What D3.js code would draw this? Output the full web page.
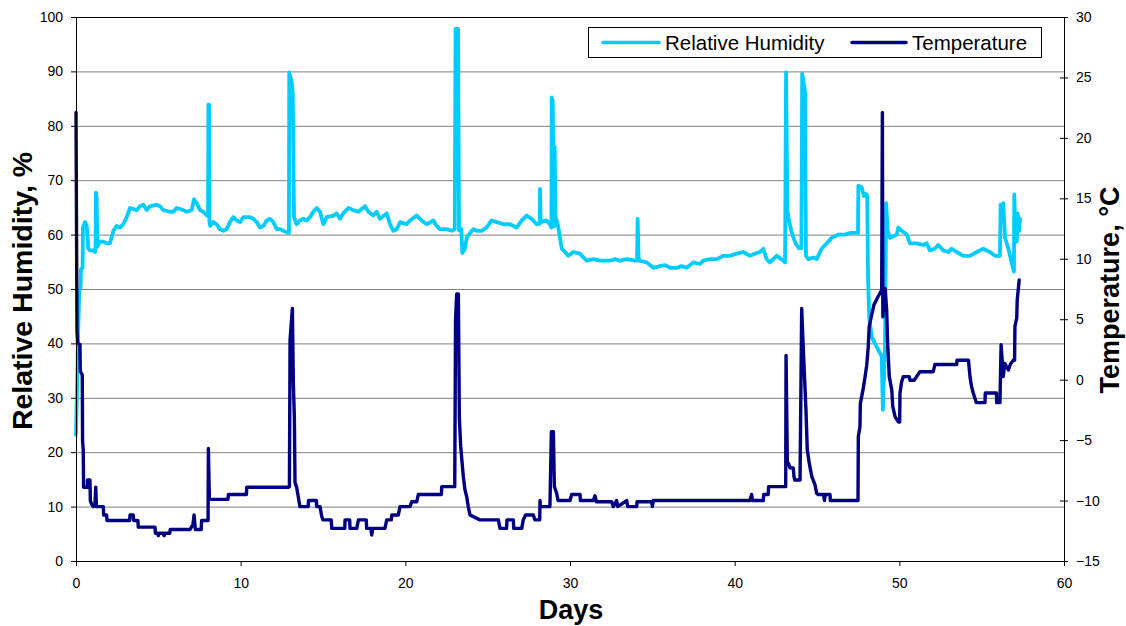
<!DOCTYPE html>
<html><head><meta charset="utf-8">
<script src="https://cdn.jsdelivr.net/npm/d3@7"></script>
<style>
body{margin:0;background:#fff;}
svg{display:block;font-family:"Liberation Sans",Arial,sans-serif;}
</style>
</head><body>
<svg id="chart" width="1126" height="626"></svg>
<script>
// ---------- data ----------
const xTicks = [0,10,20,30,40,50,60];
const rhTicks = [0,10,20,30,40,50,60,70,80,90,100];
const tempTicks = [-15,-10,-5,0,5,10,15,20,25,30];
const seriesNames = ["Relative Humidity","Temperature"];

// [day, relative humidity %]
const humidity = [
[0,23.2],[0.14,43.2],[0.2,49.7],[0.28,50.3],[0.3,53.6],[0.4,53.9],[0.42,61.3],[0.55,62.3],[0.65,61.6],[0.69,60.0],
[0.75,57.4],[0.85,57.1],[1.05,57.1],[1.15,56.8],[1.19,57.5],[1.21,67.7],[1.25,67.0],[1.3,57.8],[1.46,58.7],[1.66,58.7],
[1.86,58.4],[2.06,58.4],[2.27,60.7],[2.47,61.6],[2.67,61.3],[2.87,61.9],[3.08,63.2],[3.28,64.9],[3.69,64.5],[3.89,65.2],
[4.09,65.5],[4.29,64.5],[4.49,65.2],[4.9,65.5],[5.1,65.2],[5.3,64.5],[5.71,64.2],[5.91,64.2],[6.11,64.9],[6.52,64.5],
[6.72,64.2],[7.02,64.5],[7.17,66.5],[7.33,65.8],[7.53,64.5],[7.73,64.2],[7.94,63.5],[8.02,63.5],[8.04,83.9],[8.08,83.9],
[8.1,62.6],[8.14,61.6],[8.34,62.3],[8.54,61.9],[8.74,61.0],[8.95,60.7],[9.15,61.0],[9.35,62.3],[9.55,63.2],[9.76,62.6],
[9.96,62.3],[10.16,63.2],[10.57,63.2],[10.77,62.9],[10.97,62.3],[11.17,61.3],[11.38,61.6],[11.58,62.6],[11.78,62.9],[11.98,62.3],
[12.19,61.0],[12.39,61.0],[12.59,60.7],[12.89,60.3],[12.93,60.3],[12.95,89.8],[13.1,88.0],[13.16,86.1],[13.24,63.2],[13.4,61.9],
[13.6,62.6],[13.8,62.9],[14.01,62.6],[14.21,63.2],[14.41,64.2],[14.62,64.9],[14.82,64.2],[15.02,61.9],[15.22,63.2],[15.63,63.5],
[15.83,63.9],[16.03,62.9],[16.23,63.9],[16.54,64.9],[16.84,64.5],[17.15,64.2],[17.55,65.2],[17.75,64.2],[18.06,63.5],[18.26,64.2],
[18.46,62.9],[18.87,63.9],[19.07,61.9],[19.27,60.7],[19.48,61.0],[19.68,62.3],[20.08,61.9],[20.28,62.6],[20.69,63.5],[20.99,62.6],
[21.3,61.9],[21.7,62.6],[21.9,61.6],[22.1,61.0],[22.51,61.0],[22.82,60.7],[23.0,61.0],[23.05,97.8],[23.2,97.8],[23.26,60.8],
[23.4,61.0],[23.46,56.6],[23.62,57.4],[23.73,59.4],[23.93,60.3],[24.13,61.0],[24.33,60.7],[24.64,60.7],[24.94,61.3],[25.24,62.6],
[25.55,62.3],[25.95,61.9],[26.36,61.9],[26.76,61.3],[27.07,62.6],[27.37,63.5],[27.67,62.9],[27.98,61.9],[28.16,62.0],[28.18,68.4],
[28.22,62.3],[28.58,62.6],[28.78,61.9],[28.87,61.3],[28.89,85.2],[28.95,84.5],[29.03,61.5],[29.07,76.1],[29.12,63.2],[29.19,62.6],
[29.29,61.3],[29.39,59.4],[29.5,57.4],[29.7,56.8],[29.9,56.1],[30.2,56.8],[30.61,56.5],[30.81,55.8],[31.01,55.2],[31.41,55.5],
[31.82,55.2],[32.43,55.2],[32.73,55.5],[33.04,55.2],[33.44,55.5],[33.95,55.2],[34.07,55.2],[34.11,62.9],[34.16,56.0],[34.21,55.2],
[34.66,54.9],[35.06,53.9],[35.46,54.2],[35.77,54.4],[36.07,53.9],[36.48,53.9],[36.78,54.2],[37.09,53.9],[37.49,54.9],[37.89,54.6],
[38.09,55.2],[38.5,55.5],[38.91,55.5],[39.31,56.1],[39.72,56.1],[40.12,56.5],[40.52,56.8],[40.93,56.1],[41.23,56.5],[41.54,56.8],
[41.74,57.4],[41.94,55.5],[42.14,54.9],[42.55,56.1],[42.95,55.2],[43.06,54.9],[43.12,89.8],[43.2,64.5],[43.3,62.5],[43.5,60.0],
[43.7,58.4],[43.9,57.5],[44.05,57.5],[44.1,89.6],[44.27,86.3],[44.33,56.1],[44.47,55.5],[44.77,55.8],[44.98,55.5],[45.28,57.4],
[45.59,58.4],[45.89,59.4],[46.29,60.0],[46.7,60.0],[47.0,60.3],[47.49,60.3],[47.51,69.0],[47.71,68.7],[47.85,67.1],[47.97,67.5],
[48.05,67.1],[48.1,52.3],[48.17,44.9],[48.32,41.2],[48.52,40.0],[48.72,38.8],[48.93,37.6],[49.0,27.8],[49.13,39.4],[49.2,65.8],
[49.29,60.7],[49.43,59.4],[49.84,60.0],[49.94,61.3],[50.14,60.7],[50.45,60.0],[50.65,58.4],[51.05,58.4],[51.45,58.1],[51.66,58.4],
[51.86,57.1],[52.16,57.4],[52.36,58.1],[52.67,57.1],[52.97,56.8],[53.18,57.4],[53.48,56.8],[53.88,56.1],[54.29,56.1],[54.7,56.8],
[55.1,57.4],[55.5,56.8],[55.81,56.1],[56.11,56.1],[56.15,65.5],[56.23,62.9],[56.31,65.8],[56.42,59.4],[56.62,57.4],[56.82,54.9],
[56.96,53.2],[56.98,67.4],[57.06,59.4],[57.13,58.7],[57.19,63.9],[57.27,60.7],[57.33,62.9]
];

// [day, temperature °C]
const temperature = [
[0,22.1],[0.06,4.0],[0.1,3.0],[0.24,2.9],[0.26,0.7],[0.38,0.4],[0.4,-5.1],[0.44,-5.8],[0.46,-8.9],[0.69,-8.9],
[0.7,-8.3],[0.85,-8.3],[0.87,-10.0],[0.95,-10.3],[1.05,-10.5],[1.15,-10.3],[1.2,-8.9],[1.24,-10.5],[1.66,-10.5],[1.68,-11.2],
[1.86,-11.2],[1.88,-11.65],[3.26,-11.65],[3.28,-11.2],[3.48,-11.2],[3.5,-11.65],[3.76,-11.65],[3.78,-12.2],[4.8,-12.2],[4.82,-12.7],
[4.95,-12.7],[5.0,-12.9],[5.05,-12.7],[5.3,-12.7],[5.35,-12.9],[5.4,-12.7],[5.7,-12.7],[5.72,-12.4],[6.92,-12.4],[7.1,-12.0],
[7.17,-11.2],[7.25,-12.4],[7.6,-12.4],[7.63,-11.65],[8.02,-11.65],[8.04,-5.7],[8.1,-9.9],[9.23,-9.9],[9.25,-9.5],[10.35,-9.5],
[10.37,-8.9],[12.9,-8.9],[12.96,-8.85],[13.0,3.3],[13.14,5.9],[13.2,-0.3],[13.26,-3.1],[13.3,-8.5],[13.4,-8.9],[13.5,-9.7],
[13.6,-10.5],[14.1,-10.5],[14.12,-10.0],[14.6,-10.0],[14.62,-10.5],[14.82,-10.5],[14.92,-11.3],[15.0,-11.6],[15.5,-11.6],[15.53,-12.3],
[16.32,-12.3],[16.34,-11.6],[16.62,-11.6],[16.64,-12.3],[17.05,-12.3],[17.15,-11.6],[17.63,-11.6],[17.65,-12.3],[17.9,-12.3],[17.96,-12.85],
[18.02,-12.3],[18.76,-12.3],[18.87,-11.6],[19.15,-11.6],[19.17,-11.2],[19.57,-11.2],[19.68,-10.5],[20.28,-10.5],[20.39,-10.1],[20.69,-10.1],
[20.79,-9.5],[22.19,-9.5],[22.21,-8.85],[23.0,-8.85],[23.05,5.0],[23.12,7.1],[23.22,7.1],[23.28,-3.1],[23.36,-5.5],[23.52,-8.0],
[23.62,-9.1],[23.73,-9.7],[23.82,-10.5],[23.93,-11.2],[24.53,-11.6],[25.65,-11.6],[25.75,-12.3],[26.15,-12.3],[26.17,-11.6],[26.56,-11.6],
[26.58,-12.3],[27.07,-12.3],[27.16,-11.6],[27.3,-11.2],[27.77,-11.2],[27.87,-11.6],[28.16,-11.6],[28.18,-10.0],[28.2,-10.5],[28.78,-10.5],
[28.87,-4.3],[28.99,-4.3],[29.05,-8.85],[29.19,-9.4],[29.27,-10.0],[30.0,-10.0],[30.1,-9.5],[30.61,-9.5],[30.63,-10.0],[31.41,-10.0],
[31.52,-9.6],[31.6,-10.1],[32.53,-10.1],[32.63,-10.5],[32.83,-10.0],[32.9,-10.5],[33.44,-10.0],[33.5,-10.5],[34.05,-10.5],[34.07,-10.1],
[34.96,-10.1],[35.0,-10.5],[35.06,-10.0],[40.93,-10.0],[41.03,-9.5],[41.08,-10.0],[41.74,-10.0],[41.76,-9.5],[42.04,-9.5],[42.06,-8.85],
[43.1,-8.85],[43.12,2.0],[43.2,-6.9],[43.26,-6.9],[43.36,-7.3],[43.56,-7.3],[43.6,-8.0],[43.65,-8.3],[43.97,-8.3],[44.07,5.9],
[44.13,3.8],[44.33,-2.5],[44.41,-5.8],[44.53,-6.9],[44.68,-8.0],[44.88,-8.7],[44.98,-9.4],[45.08,-9.5],[45.4,-9.5],[45.45,-10.0],
[45.5,-9.5],[45.79,-9.5],[45.81,-10.0],[47.49,-10.0],[47.51,-4.7],[47.61,-3.9],[47.63,-2.0],[47.81,-0.7],[47.92,0.25],[48.02,1.2],
[48.11,2.7],[48.17,4.4],[48.32,5.35],[48.46,6.2],[48.72,6.9],[48.93,7.4],[48.97,22.1],[49.0,5.2],[49.13,7.55],[49.23,5.8],
[49.29,3.0],[49.39,0.25],[49.54,-0.85],[49.6,-2.2],[49.74,-3.06],[49.94,-3.5],[50.02,-3.5],[50.04,-1.1],[50.14,-0.17],[50.24,0.25],
[50.6,0.25],[50.65,-0.05],[50.9,-0.05],[51.05,0.25],[51.25,0.66],[52.06,0.66],[52.16,1.25],[53.48,1.25],[53.5,1.6],[54.2,1.6],
[54.29,0.25],[54.39,-0.6],[54.49,-1.1],[54.65,-1.8],[54.67,-1.9],[55.2,-1.9],[55.22,-1.1],[55.9,-1.1],[55.91,-1.9],[56.11,-1.9],
[56.18,2.9],[56.31,0.25],[56.4,1.35],[56.62,0.8],[56.75,1.3],[56.92,1.6],[57.0,1.6],[57.02,4.4],[57.13,5.1],[57.16,6.6],[57.28,8.25]
];

// ---------- layout ----------
const L = 76, R = 1064, T = 17, B = 561;
const svg = d3.select("#chart");
const x = d3.scaleLinear().domain([0,60]).range([L,R]);
const yRH = d3.scaleLinear().domain([0,100]).range([B,T]);
const yT = d3.scaleLinear().domain([-15,30]).range([B,T]);

// gridlines
svg.append("g").attr("transform",`translate(${L},0)`)
  .call(d3.axisLeft(yRH).tickValues(rhTicks.filter(v=>v>0&&v<100)).tickSize(-(R-L)).tickFormat(""))
  .call(g=>g.select(".domain").remove())
  .call(g=>g.selectAll("line").attr("stroke","#808080").attr("stroke-width",1));

// top border
svg.append("line").attr("x1",L).attr("x2",R).attr("y1",T+0.5).attr("y2",T+0.5).attr("stroke","#000");

// lines
const lineRH = d3.line().x(d=>x(d[0])).y(d=>yRH(d[1]));
const lineT = d3.line().x(d=>x(d[0])).y(d=>yT(d[1]));
svg.append("path").datum(humidity).attr("d",lineRH).attr("fill","none")
  .attr("stroke","#00CCFF").attr("stroke-width",3.8).attr("stroke-linejoin","round").attr("stroke-linecap","round");
svg.append("path").datum(temperature).attr("d",lineT).attr("fill","none")
  .attr("stroke","#000080").attr("stroke-width",3.4).attr("stroke-linejoin","round").attr("stroke-linecap","round");

// axes
const fs = "14px";
svg.append("g").attr("transform",`translate(${L},0)`)
  .call(d3.axisLeft(yRH).tickValues(rhTicks).tickSize(5).tickSizeOuter(0).tickPadding(8))
  .call(g=>g.selectAll("text").attr("font-size",fs).attr("fill","#000").attr("font-family","Liberation Sans, Arial, sans-serif"))
  .call(g=>g.selectAll("line,path").attr("stroke","#000"));

const gR = svg.append("g").attr("transform",`translate(${R},0)`)
  .call(d3.axisRight(yT).tickValues(tempTicks).tickSize(4).tickSizeOuter(0).tickPadding(8))
  .call(g=>g.selectAll("text").attr("font-size",fs).attr("fill","#000").attr("font-family","Liberation Sans, Arial, sans-serif"))
  .call(g=>g.selectAll("line,path").attr("stroke","#000"));
gR.selectAll(".tick").append("line").attr("x1",-4).attr("x2",0).attr("stroke","#000");

svg.append("g").attr("transform",`translate(0,${B})`)
  .call(d3.axisBottom(x).tickValues(xTicks).tickSize(5).tickSizeOuter(0).tickPadding(12))
  .call(g=>g.selectAll("text").attr("font-size",fs).attr("fill","#000").attr("font-family","Liberation Sans, Arial, sans-serif"))
  .call(g=>g.selectAll("line,path").attr("stroke","#000"));

// titles
svg.append("text").attr("x",571).attr("y",619).attr("text-anchor","middle")
  .attr("font-size","27px").attr("font-weight","bold").text("Days");
svg.append("text").attr("transform","translate(32,291) rotate(-90)").attr("text-anchor","middle")
  .attr("font-size","28.5px").attr("font-weight","bold").text("Relative Humidity, %");
svg.append("text").attr("transform","translate(1119,290) rotate(-90)").attr("text-anchor","middle")
  .attr("font-size","27px").attr("font-weight","bold").text("Temperature, °C");

// legend
const lg = svg.append("g");
lg.append("rect").attr("x",588.5).attr("y",27.5).attr("width",453).attr("height",30)
  .attr("fill","#fff").attr("stroke","#000").attr("stroke-width",1);
const legendItems = [
  {name:seriesNames[0], color:"#00CCFF", x1:603, x2:659, tx:665},
  {name:seriesNames[1], color:"#000080", x1:852, x2:906, tx:912}
];
legendItems.forEach(it=>{
  lg.append("line").attr("x1",it.x1).attr("x2",it.x2).attr("y1",42.5).attr("y2",42.5)
    .attr("stroke",it.color).attr("stroke-width",3.5).attr("stroke-linecap","round");
  lg.append("text").attr("x",it.tx).attr("y",50).attr("font-size","20.5px").attr("fill","#000").text(it.name);
});
</script>
</body></html>
